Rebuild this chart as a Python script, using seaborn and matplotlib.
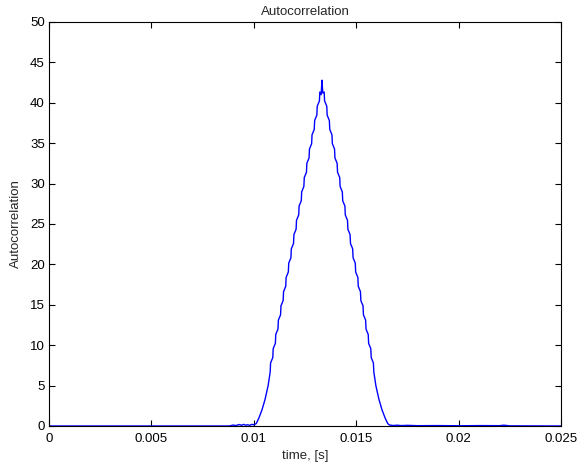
import matplotlib
matplotlib.use("Agg")
import matplotlib.pyplot as plt
import seaborn as sns
import pandas as pd

# time [s] and autocorrelation values
time_s = [
    0.0, 0.0088, 0.0090, 0.0091, 0.0093, 0.0094, 0.0095, 0.0096, 0.0097, 0.0098, 0.0099, 0.0100,
    0.01012, 0.01025, 0.01040, 0.01055, 0.01070,
    0.010800, 0.010820, 0.010927, 0.010947, 0.011053, 0.011073, 0.011180, 0.011200,
    0.011306, 0.011326, 0.011433, 0.011453, 0.011559, 0.011579, 0.011686, 0.011706,
    0.011812, 0.011832, 0.011939, 0.011959, 0.012065, 0.012085, 0.012192, 0.012212,
    0.012318, 0.012338, 0.012445, 0.012465, 0.012571, 0.012591, 0.012698, 0.012718,
    0.012824, 0.012844, 0.012951, 0.012971, 0.013077, 0.013097, 0.013204, 0.013224,
    0.013290, 0.013310, 0.013330, 0.013350, 0.013370,
    0.013436, 0.013456, 0.013563, 0.013583, 0.013689, 0.013709, 0.013816, 0.013836,
    0.013942, 0.013962, 0.014069, 0.014089, 0.014195, 0.014215, 0.014322, 0.014342,
    0.014448, 0.014468, 0.014575, 0.014595, 0.014701, 0.014721, 0.014828, 0.014848,
    0.014954, 0.014974, 0.015081, 0.015101, 0.015207, 0.015227, 0.015334, 0.015354,
    0.015460, 0.015480, 0.015587, 0.015607, 0.015713, 0.015733, 0.015840, 0.015860,
    0.01596, 0.01611, 0.01626, 0.01641, 0.01654,
    0.01663, 0.0168, 0.0170, 0.0172, 0.0175, 0.0180, 0.0190, 0.0200, 0.0210, 0.0220, 0.0222, 0.0225, 0.025,
]
autocorr = [
    0.0, 0.0, 0.12, 0.05, 0.18, 0.08, 0.2, 0.1, 0.15, 0.08, 0.2, 0.15,
    0.30, 1.00, 2.00, 3.30, 5.00,
    6.70, 7.80, 8.47, 9.57, 10.23, 11.33, 12.00, 13.10,
    13.76, 14.86, 15.53, 16.63, 17.29, 18.39, 19.06, 20.16,
    20.82, 21.92, 22.59, 23.69, 24.35, 25.45, 26.12, 27.22,
    27.88, 28.98, 29.65, 30.75, 31.41, 32.51, 33.18, 34.28,
    34.94, 36.04, 36.71, 37.81, 38.47, 39.57, 40.24, 41.34,
    41.0, 42.0, 42.8, 41.9, 41.2,
    41.34, 40.24, 39.57, 38.47, 37.81, 36.71, 36.04, 34.94,
    34.28, 33.18, 32.51, 31.41, 30.75, 29.65, 28.98, 27.88,
    27.22, 26.12, 25.45, 24.35, 23.69, 22.59, 21.92, 20.82,
    20.16, 19.06, 18.39, 17.29, 16.63, 15.53, 14.86, 13.76,
    13.10, 12.00, 11.33, 10.23, 9.57, 8.47, 7.80, 6.70,
    5.00, 3.30, 2.00, 1.00, 0.30,
    0.12, 0.06, 0.1, 0.05, 0.08, 0.04, 0.05, 0.03, 0.05, 0.04, 0.1, 0.02, 0.0,
]

x_ticks = [0, 0.005, 0.01, 0.015, 0.02, 0.025]
x_tick_labels = ["0", "0.005", "0.01", "0.015", "0.02", "0.025"]
y_ticks = [0, 5, 10, 15, 20, 25, 30, 35, 40, 45, 50]

df = pd.DataFrame({"time": time_s, "ac": autocorr})

sns.set_theme(style="ticks")
plt.rcParams["font.family"] = ["Liberation Sans", "DejaVu Sans"]
FS = 9.5
plt.rcParams["font.size"] = FS

fig = plt.figure(figsize=(5.79, 4.68), dpi=100)
ax = fig.add_axes([49 / 579, 42 / 468, 512 / 579, 404 / 468])

sns.lineplot(data=df, x="time", y="ac", ax=ax, color=(0, 0, 1), linewidth=1.0,
             estimator=None, sort=False)

ax.set_xlim(0, 0.025)
ax.set_ylim(0, 50)
ax.set_xticks(x_ticks)
ax.set_xticklabels(x_tick_labels)
ax.set_yticks(y_ticks)
ax.set_yticklabels([str(v) for v in y_ticks])
ax.tick_params(direction="in", top=True, right=True, length=4, width=0.8,
               labelsize=FS, colors="black")
ax.tick_params(axis="x", pad=5)
ax.tick_params(axis="y", pad=3)
for s in ax.spines.values():
    s.set_visible(True)
    s.set_color("black")
    s.set_linewidth(0.8)

ax.set_xlabel("time, [s]", fontsize=FS, labelpad=4)
ax.set_ylabel("Autocorrelation", fontsize=FS, labelpad=6)
ax.set_title("Autocorrelation", fontsize=FS, pad=5)

fig.savefig("out.png", dpi=100, facecolor="white")
